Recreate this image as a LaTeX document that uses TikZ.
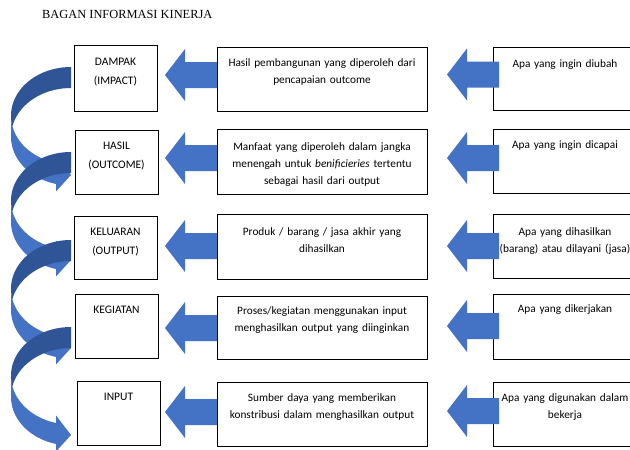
\documentclass[tikz,border=0pt]{standalone}
\usepackage{fontspec}
\setmainfont{Carlito}
\newfontfamily\titlefont{Liberation Serif}
\usetikzlibrary{calc}

\definecolor{bandlight}{HTML}{4472C4}
\definecolor{banddark}{HTML}{2F5597}

\tikzset{
  box/.style={draw=black, line width=0.8pt, fill=white, inner sep=0pt, outer sep=0pt},
  lefttxt/.style={anchor=north, inner sep=0pt, text width=80pt, align=center,
                  font=\fontsize{11.5}{19}\selectfont},
  midtxt/.style={anchor=north, inner sep=0pt, text width=206pt, align=center,
                 font=\fontsize{11.3}{16.8}\selectfont},
  righttxt/.style={anchor=north, inner sep=0pt, text width=140pt, align=center,
                   font=\fontsize{11.3}{16.8}\selectfont},
}

% left-pointing block arrow; #1 is the middle of the shaft's right end
\newcommand\blockleft[1]{%
  \fill[bandlight] (#1) -- ++(0,-13) -- ++(-32,0) -- ++(0,-13) -- ++(-20,26)
    -- ++(20,26) -- ++(0,-13) -- ++(32,0) -- cycle;}

% curved ribbon arrow on the left margin; #1 is the top of its start
\newcommand\curvedarrow[1]{%
  % lower ribbon with the head
  \fill[bandlight]
    plot[domain=180:104.4775,samples=40] ({71+60*cos(\x)},{#1+48.75+48.75*sin(\x)})
    -- (56,#1+88.452) -- (71,#1+108) -- (56,#1+124.452) -- (56,#1+116.952)
    -- plot[domain=104.4775:180,samples=40] ({71+60*cos(\x)},{#1+69.75+48.75*sin(\x)})
    -- cycle;
  % shaded upper part
  \fill[banddark]
    plot[domain=270:167.562,samples=40] ({71+60*cos(\x)},{#1+48.75+48.75*sin(\x)})
    -- plot[domain=192.438:270,samples=40] ({71+60*cos(\x)},{#1+69.75+48.75*sin(\x)})
    -- cycle;}

\begin{document}
\begin{tikzpicture}[x=1pt,y=-1pt]
\useasboundingbox (0,0) rectangle (630,450);
\fill[white] (0,0) rectangle (630,450);

\node[anchor=base west, inner sep=0pt] (title) at (42,18.5)
  {\titlefont\fontsize{12.4}{14}\selectfont BAGAN INFORMASI KINERJA};

% ribbons linking each level to the one below
\curvedarrow{67}
\curvedarrow{152}
\curvedarrow{240}
\curvedarrow{327}

% level boxes
\node[box, minimum width=83pt, minimum height=66pt] (l1) at (115.5,78) {};
\node[box, minimum width=83pt, minimum height=64pt] (l2) at (116.5,162) {};
\node[box, minimum width=83pt, minimum height=63pt] (l3) at (115.5,247.5) {};
\node[box, minimum width=83pt, minimum height=64pt] (l4) at (116.5,326) {};
\node[box, minimum width=83pt, minimum height=64pt] (l5) at (118.5,413) {};

% description boxes
\node[box, minimum width=210pt, minimum height=64pt] (m1) at (322,79) {};
\node[box, minimum width=210pt, minimum height=65pt] (m2) at (322,161.5) {};
\node[box, minimum width=210pt, minimum height=65pt] (m3) at (322,246.5) {};
\node[box, minimum width=210pt, minimum height=63pt] (m4) at (322,327.5) {};
\node[box, minimum width=210pt, minimum height=64pt] (m5) at (322,414) {};

% question boxes
\node[box, minimum width=144pt, minimum height=63pt] (r1) at (565,78.5) {};
\node[box, minimum width=144pt, minimum height=64pt] (r2) at (565,161) {};
\node[box, minimum width=144pt, minimum height=64pt] (r3) at (565,246) {};
\node[box, minimum width=144pt, minimum height=65pt] (r4) at (565,326.5) {};
\node[box, minimum width=144pt, minimum height=64pt] (r5) at (565,414) {};

% texts
\node[lefttxt] (l1t) at ($(l1.north)+(0,7)$) {\strut DAMPAK\\(IMPACT)};
\node[lefttxt] (l2t) at ($(l2.north)+(0,5.5)$) {\strut HASIL\\(OUTCOME)};
\node[lefttxt] (l3t) at ($(l3.north)+(0,5.5)$) {\strut KELUARAN\\(OUTPUT)};
\node[lefttxt] (l4t) at ($(l4.north)+(0,6)$) {\strut KEGIATAN};
\node[lefttxt] (l5t) at ($(l5.north)+(0,5.5)$) {\strut INPUT};

\node[midtxt] (m1t) at ($(m1.north)+(0,8)$) {\strut Hasil pembangunan yang diperoleh dari\\pencapaian outcome};
\node[midtxt] (m2t) at ($(m2.north)+(0,10)$) {\strut Manfaat yang diperoleh dalam jangka\\menengah untuk \emph{benificieries} tertentu\\sebagai hasil dari output};
\node[midtxt] (m3t) at ($(m3.north)+(0,10)$) {\strut Produk / barang / jasa akhir yang\\dihasilkan};
\node[midtxt] (m4t) at ($(m4.north)+(0,7)$) {\strut Proses/kegiatan menggunakan input\\menghasilkan output yang diinginkan};
\node[midtxt] (m5t) at ($(m5.north)+(0,7.5)$) {\strut Sumber daya yang memberikan\\konstribusi dalam menghasilkan output};

\node[righttxt] (r1t) at ($(r1.north)+(0,8.5)$) {\strut Apa yang ingin diubah};
\node[righttxt] (r2t) at ($(r2.north)+(0,8)$) {\strut Apa yang ingin dicapai};
\node[righttxt] (r3t) at ($(r3.north)+(0,9.5)$) {\strut Apa yang dihasilkan\\(barang) atau dilayani (jasa)};
\node[righttxt] (r4t) at ($(r4.north)+(0,7)$) {\strut Apa yang dikerjakan};
\node[righttxt] (r5t) at ($(r5.north)+(0,7.5)$) {\strut Apa yang digunakan dalam\\bekerja};

% block arrows pointing left
\blockleft{$(m1.west)+(0,-4)$}
\blockleft{$(m2.west)+(0,-3.5)$}
\blockleft{$(m3.west)+(0,-0.5)$}
\blockleft{$(m4.west)+(0,0.5)$}
\blockleft{$(m5.west)+(0,-2)$}

\blockleft{$(r1.west)+(6,-4)$}
\blockleft{$(r2.west)+(6,-3)$}
\blockleft{$(r3.west)+(6,0)$}
\blockleft{$(r4.west)+(6,-0.5)$}
\blockleft{$(r5.west)+(6,-3)$}
\end{tikzpicture}
\end{document}
